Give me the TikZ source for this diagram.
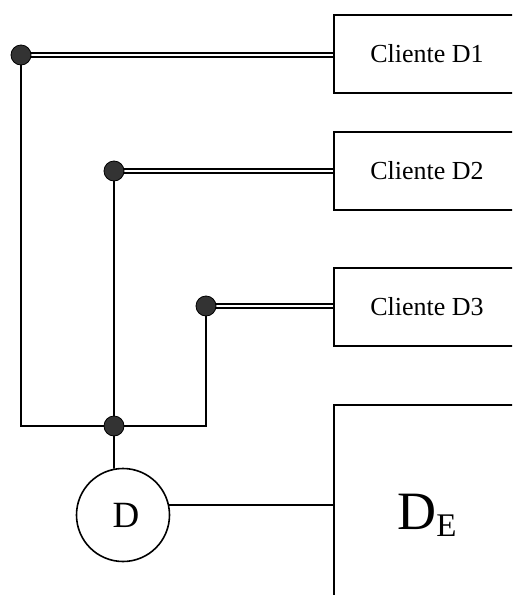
\documentclass[tikz,border=0pt]{standalone}
\usepackage{fontspec}
\setmainfont{Liberation Serif}
\begin{document}
\begin{tikzpicture}[x=1pt,y=-1pt,
  line width=1.8pt,
  client/.style={draw, rectangle, line width=1.9pt, minimum width=186pt, minimum height=78pt, inner sep=0pt, font=\fontsize{26}{26}\selectfont},
  bigbox/.style={draw, rectangle, line width=1.9pt, minimum width=186pt, minimum height=220pt, inner sep=0pt},
  jdot/.style={circle, fill=black!80, draw=black, line width=0.8pt, minimum size=20pt, inner sep=0pt},
  dbl/.style={draw, double=white, double distance=2.4pt, line width=2.1pt},
  gen/.style={draw, circle, line width=1.6pt, minimum size=93pt, inner sep=0pt, font=\fontsize{37}{37}\selectfont}
]
\useasboundingbox (0,0) rectangle (512,595);
\fill[white] (0,0) rectangle (512,595);
\clip (0,0) rectangle (512,595);

% client boxes (open to the right edge)
\node[client] (c1) at (427,54) {Cliente D1};
\node[client] (c2) at (427,171) {Cliente D2};
\node[client] (c3) at (427,307) {Cliente D3};
\node[bigbox] (de) at (427,515) {\fontsize{54}{54}\selectfont D\raisebox{-7pt}{\fontsize{33}{33}\selectfont E}};

% generator
\node[gen] (g) at (123,515) {\hspace{6pt}D};

% junction points
\coordinate (j1) at (21,55);
\coordinate (j2) at (114,171);
\coordinate (j3) at (206,306);
\coordinate (hub) at (114,426);

% double feeder lines
\draw[dbl] (j1) -- (j1 -| c1.west);
\draw[dbl] (j2) -- (j2 -| c2.west);
\draw[dbl] (j3) -- (j3 -| c3.west);

% single lines
\draw (j1) -- (j1 |- hub) -- (j3 |- hub) -- (j3);
\draw (j2) -- (hub);
\draw (hub) -- (g.101);
\draw (g.12) -- (g.12 -| de.west);

% dots on top
\node[jdot] (d1) at (j1) {};
\node[jdot] (d2) at (j2) {};
\node[jdot] (d3) at (j3) {};
\node[jdot] (dh) at (hub) {};
\end{tikzpicture}
\end{document}
